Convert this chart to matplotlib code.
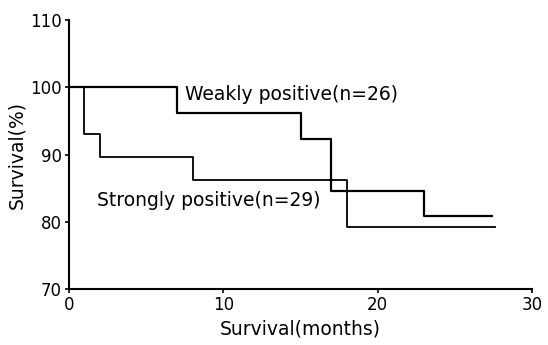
import matplotlib.pyplot as plt

plt.rcParams['font.family'] = ['DejaVu Sans']

# 生存曲线数据 (月, %)
weak_months = [0, 7, 15, 17, 23, 27.4]
weak_surv = [100, 96.2, 92.3, 84.6, 80.8, 80.8]
strong_months = [0, 1, 2, 8, 18, 27.6]
strong_surv = [100, 93.1, 89.7, 86.2, 79.3, 79.3]

x_ticks = [0, 10, 20, 30]
y_ticks = [70, 80, 90, 100, 110]

fig = plt.figure(figsize=(5.48, 3.45), dpi=100)
ax = fig.add_axes([0.126, 0.162, 0.845, 0.78])

ax.step(weak_months, weak_surv, where='post', color='black', lw=1.6)
ax.step(strong_months, strong_surv, where='post', color='black', lw=1.3)

ax.text(7.5, 99.0, 'Weakly positive(n=26)', fontsize=13.5, va='center')
ax.text(1.8, 83.2, 'Strongly positive(n=29)', fontsize=13.5, va='center')

ax.set_xlim(0, 30)
ax.set_ylim(70, 110)
ax.set_xticks(x_ticks)
ax.set_yticks(y_ticks)
ax.tick_params(labelsize=12, length=3, width=1.2, direction='out', pad=2)
for s in ['top', 'right']:
    ax.spines[s].set_visible(False)
for s in ['left', 'bottom']:
    ax.spines[s].set_linewidth(1.5)

ax.set_xlabel('Survival(months)', fontsize=13.5, labelpad=4)
ax.set_ylabel('Survival(%)', fontsize=13.5, labelpad=3)

fig.savefig('out.png', dpi=100)
